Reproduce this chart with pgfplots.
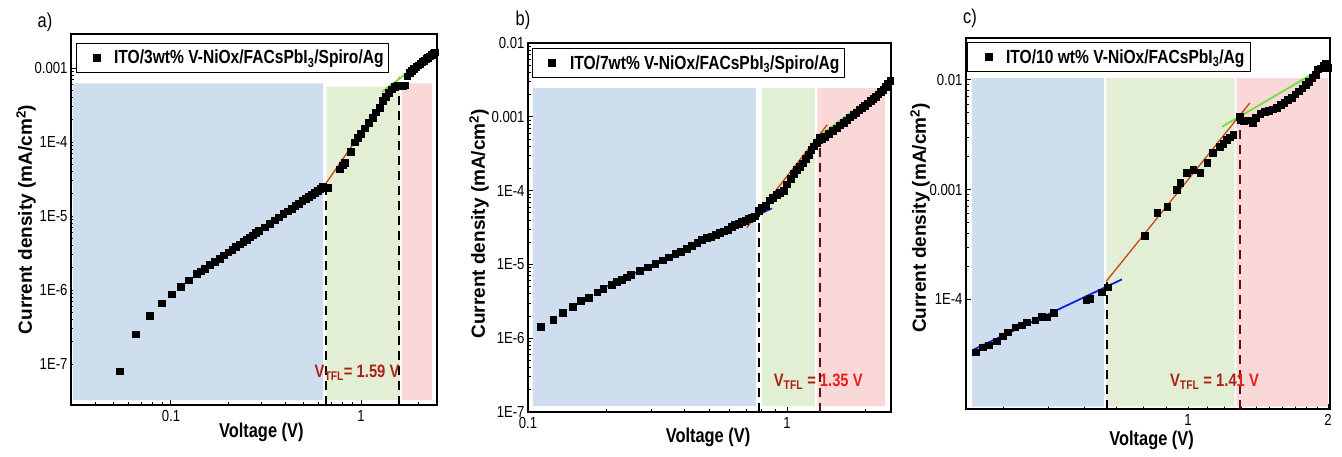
\documentclass[border=0pt]{standalone}
\usepackage{fontspec}
\setmainfont{Liberation Sans}[FakeStretch=0.82]
\newfontfamily\widefont{Liberation Sans}
\usepackage{pgfplots}
\pgfplotsset{compat=1.18}

\definecolor{regblue}{RGB}{206,222,238}
\definecolor{reggreen}{RGB}{227,239,212}
\definecolor{regred}{RGB}{250,216,215}
\definecolor{fitblue}{RGB}{20,30,220}
\definecolor{fitred}{RGB}{205,65,25}
\definecolor{fitgreen}{RGB}{110,225,60}
\definecolor{vtfl}{RGB}{170,35,25}
\definecolor{vtflbright}{RGB}{235,30,25}
\definecolor{darkdash}{RGB}{90,20,20}

\newcommand{\ticksz}{\fontsize{16}{18}\selectfont}
\newcommand{\labsz}{\fontsize{20}{22}\selectfont\bfseries}
\newcommand{\ylabsz}{\widefont\fontsize{19}{21}\selectfont\bfseries}
\newcommand{\legsz}{\fontsize{19}{21}\selectfont\bfseries}
\newcommand{\tflsz}{\fontsize{18}{20}\selectfont\bfseries}

\begin{document}
\begin{tikzpicture}
\useasboundingbox (0pt,0pt) rectangle (1342pt,457pt);

% ---------------- a) 3 wt% ----------------
\begin{axis}[
  scale only axis, xmode=log, ymode=log,
  at={(71pt,52pt)}, anchor=south west, width=366pt, height=371pt,
  axis line style={line width=1.4pt},
  tick pos=left, tick align=inside,
  major tick length=5pt, minor tick length=3pt,
  tick style={black, line width=0.9pt},
  tick label style={font=\ticksz},
  xticklabel style={yshift=-2pt},
  xmin=0.0298, xmax=2.51, ymin=2.8e-8, ymax=2.9e-3,
  xtick={0.1,1}, xticklabels={\mbox{0.1},\mbox{1}},
  minor xtick={0.04,0.05,0.06,0.07,0.08,0.09,0.2,0.3,0.4,0.5,0.6,0.7,0.8,0.9,2},
  ytick={1e-7,1e-6,1e-5,1e-4,1e-3},
  yticklabels={\mbox{1E-7},\mbox{1E-6},\mbox{1E-5},\mbox{1E-4},\mbox{0.001}},
  xlabel={Voltage (V)},
  xlabel style={font=\labsz, anchor=center, at={(axis description cs:0.52,-0.075)}},
  ylabel={Current density (mA/cm\textsuperscript{2})},
  ylabel style={font=\ylabsz, anchor=center, at={(axis description cs:-0.123,0.5)}},
  legend style={at={(0.014,0.976)}, anchor=north west, draw=black, line width=0.6pt,
                fill=white, font=\legsz, inner xsep=3pt, inner ysep=5pt},
  legend image code/.code={\path[draw=none, opacity=0] (0cm,0cm) -- (1.15cm,0cm);
                           \draw[#1] plot coordinates {(0.62cm,0cm)};},
  legend cell align=left,
]
\addplot[draw=none, fill=regblue, forget plot] coordinates {(0.0305,3.25e-8) (0.632,3.25e-8) (0.632,6.26e-4) (0.0305,6.26e-4) (0.0305,3.25e-8)};
\addplot[draw=none, fill=reggreen, forget plot] coordinates {(0.66,3.25e-8) (1.60,3.25e-8) (1.60,5.7e-4) (0.66,5.7e-4) (0.66,3.25e-8)};
\addplot[draw=none, fill=regred, forget plot] coordinates {(1.64,3.25e-8) (2.36,3.25e-8) (2.36,6.26e-4) (1.64,6.26e-4) (1.64,3.25e-8)};
\addplot[black, dash pattern=on 9pt off 6pt, line width=1.5pt, forget plot] coordinates {(0.655,2.8e-8) (0.655,2.3e-5)};
\addplot[black, dash pattern=on 9pt off 6pt, line width=1.5pt, forget plot] coordinates {(1.585,2.8e-8) (1.585,5.9e-4)};
\addplot[only marks, mark=square*, mark size=3.4pt, black] coordinates {
 (0.054,8.0e-8) (0.0655,2.54e-7) (0.0776,4.46e-7) (0.0897,6.67e-7) (0.101,8.8e-7)
 (0.113,1.1e-6) (0.124,1.36e-6) (0.137,1.65e-6) (0.143,1.8e-6)
 (0.15,1.95e-6) (0.16,2.18e-6) (0.17,2.43e-6) (0.18,2.69e-6) (0.19,2.96e-6) (0.20,3.25e-6)
 (0.21,3.54e-6) (0.22,3.85e-6) (0.23,4.17e-6) (0.24,4.49e-6) (0.25,4.83e-6) (0.26,5.18e-6)
 (0.27,5.54e-6) (0.28,5.91e-6) (0.29,6.29e-6) (0.31,7.09e-6) (0.33,7.92e-6) (0.35,8.80e-6)
 (0.37,9.71e-6) (0.39,1.07e-5) (0.41,1.17e-5) (0.43,1.27e-5) (0.45,1.38e-5) (0.47,1.49e-5)
 (0.49,1.60e-5) (0.51,1.72e-5) (0.53,1.84e-5) (0.55,1.97e-5) (0.57,2.10e-5) (0.59,2.23e-5)
 (0.61,2.37e-5) (0.63,2.50e-5)
 (0.67,2.4e-5) (0.776,4.3e-5) (0.80,4.9e-5) (0.82,5.3e-5) (0.88,7.5e-5) (0.93,1.0e-4)
 (0.96,1.15e-4) (1.0,1.3e-4) (1.05,1.55e-4) (1.1,1.85e-4) (1.15,2.15e-4) (1.2,2.55e-4)
 (1.25,2.95e-4) (1.3,3.6e-4) (1.35,4.1e-4) (1.4,4.7e-4) (1.45,5.2e-4) (1.5,5.6e-4)
 (1.55,5.9e-4) (1.58,5.9e-4)
 (1.65,5.7e-4) (1.70,5.9e-4) (1.75,7.8e-4) (1.8,8.6e-4) (1.85,9.2e-4) (1.9,9.8e-4)
 (1.95,1.04e-3) (2.0,1.10e-3) (2.05,1.15e-3) (2.1,1.21e-3) (2.15,1.27e-3) (2.2,1.33e-3)
 (2.25,1.39e-3) (2.3,1.45e-3) (2.35,1.52e-3) (2.4,1.58e-3) (2.45,1.65e-3)
};
\addlegendentry{ITO/3wt\% V-NiOx/FACsPbI\textsubscript{3}/Spiro/Ag}
\addplot[fitblue, line width=2.4pt, forget plot] coordinates {(0.137,1.65e-6) (0.63,2.5e-5)};
\addplot[fitred, line width=1.3pt, forget plot] coordinates {(0.655,2.8e-5) (1.60,7.6e-4)};
\addplot[fitgreen, line width=1.8pt, forget plot] coordinates {(1.29,4.8e-4) (2.45,1.66e-3)};
\node[font=\tflsz, text=vtfl] at (axis cs:0.953,7.6e-8) {V\textsubscript{TFL}= 1.59 V};
\end{axis}

% ---------------- b) 7 wt% ----------------
\begin{axis}[
  scale only axis, xmode=log, ymode=log,
  at={(528pt,45pt)}, anchor=south west, width=363pt, height=369pt,
  axis line style={line width=1.4pt},
  tick pos=left, tick align=inside,
  major tick length=5pt, minor tick length=3pt,
  tick style={black, line width=0.9pt},
  tick label style={font=\ticksz},
  xticklabel style={yshift=-2pt},
  xmin=0.1, xmax=2.52, ymin=1e-7, ymax=1e-2,
  xtick={0.1,1}, xticklabels={\mbox{0.1},\mbox{1}},
  minor xtick={0.2,0.3,0.4,0.5,0.6,0.7,0.8,0.9,2},
  ytick={1e-7,1e-6,1e-5,1e-4,1e-3,1e-2},
  yticklabels={\mbox{1E-7},\mbox{1E-6},\mbox{1E-5},\mbox{1E-4},\mbox{0.001},\mbox{0.01}},
  minor ytick={2e-7,3e-7,4e-7,5e-7,6e-7,7e-7,8e-7,9e-7,2e-6,3e-6,4e-6,5e-6,6e-6,7e-6,8e-6,9e-6,
               2e-5,3e-5,4e-5,5e-5,6e-5,7e-5,8e-5,9e-5,2e-4,3e-4,4e-4,5e-4,6e-4,7e-4,8e-4,9e-4,
               2e-3,3e-3,4e-3,5e-3,6e-3,7e-3,8e-3,9e-3},
  xlabel={Voltage (V)},
  xlabel style={font=\labsz, anchor=center, at={(axis description cs:0.496,-0.068)}},
  ylabel={Current density (mA/cm\textsuperscript{2})},
  ylabel style={font=\ylabsz, anchor=center, at={(axis description cs:-0.135,0.51)}},
  legend style={at={(0.011,0.986)}, anchor=north west, draw=black, line width=0.6pt,
                fill=white, font=\legsz, inner xsep=3pt, inner ysep=5pt},
  legend image code/.code={\path[draw=none, opacity=0] (0cm,0cm) -- (1.15cm,0cm);
                           \draw[#1] plot coordinates {(0.58cm,0cm)};},
  legend cell align=left,
]
\addplot[draw=none, fill=regblue, forget plot] coordinates {(0.1045,1.2e-7) (0.759,1.2e-7) (0.759,2.45e-3) (0.1045,2.45e-3) (0.1045,1.2e-7)};
\addplot[draw=none, fill=reggreen, forget plot] coordinates {(0.80,1.2e-7) (1.28,1.2e-7) (1.28,2.45e-3) (0.80,2.45e-3) (0.80,1.2e-7)};
\addplot[draw=none, fill=regred, forget plot] coordinates {(1.31,1.2e-7) (2.39,1.2e-7) (2.39,2.45e-3) (1.31,2.45e-3) (1.31,1.2e-7)};
\addplot[black, dash pattern=on 9pt off 6pt, line width=1.5pt, forget plot] coordinates {(0.78,1e-7) (0.78,5.4e-5)};
\addplot[darkdash, dash pattern=on 9pt off 6pt, line width=1.5pt, forget plot] coordinates {(1.34,1e-7) (1.34,4.4e-4)};
\addplot[only marks, mark=square*, mark size=3.4pt, black] coordinates {
 (0.112,1.43e-6) (0.125,1.78e-6) (0.136,2.2e-6) (0.149,2.67e-6) (0.16,3.2e-6)
 (0.172,3.55e-6) (0.185,4.2e-6) (0.195,4.7e-6)
 (0.21,5.37e-6) (0.22,5.8e-6) (0.23,6.25e-6) (0.24,6.7e-6) (0.25,7.18e-6) (0.27,8.15e-6)
 (0.29,9.18e-6) (0.31,1.025e-5) (0.33,1.14e-5) (0.35,1.25e-5) (0.37,1.38e-5) (0.39,1.50e-5)
 (0.41,1.63e-5) (0.43,1.78e-5) (0.45,1.95e-5) (0.47,2.15e-5) (0.49,2.32e-5) (0.51,2.40e-5)
 (0.53,2.52e-5) (0.55,2.66e-5) (0.57,2.82e-5) (0.59,2.98e-5) (0.61,3.22e-5) (0.63,3.42e-5)
 (0.65,3.6e-5) (0.67,3.78e-5) (0.69,3.95e-5) (0.71,4.12e-5) (0.73,4.3e-5) (0.75,4.5e-5)
 (0.78,5.3e-5) (0.80,5.8e-5) (0.83,6.3e-5) (0.86,7.4e-5) (0.88,8.1e-5) (0.91,8.8e-5)
 (0.94,9.3e-5) (0.97,1.0e-4) (1.0,1.22e-4) (1.03,1.45e-4) (1.06,1.7e-4) (1.09,1.9e-4)
 (1.12,2.1e-4) (1.15,2.35e-4) (1.18,2.7e-4) (1.21,3.1e-4) (1.24,3.6e-4) (1.27,4.0e-4)
 (1.30,4.5e-4) (1.33,4.9e-4)
 (1.34,5.2e-4) (1.36,5.0e-4) (1.40,5.4e-4) (1.45,5.9e-4) (1.5,6.5e-4) (1.55,7.0e-4)
 (1.6,7.7e-4) (1.65,8.3e-4) (1.7,9.0e-4) (1.75,9.9e-4) (1.8,1.07e-3) (1.85,1.15e-3)
 (1.9,1.24e-3) (1.95,1.33e-3) (2.0,1.43e-3) (2.05,1.53e-3) (2.1,1.64e-3) (2.15,1.76e-3)
 (2.2,1.89e-3) (2.25,2.03e-3) (2.3,2.18e-3) (2.35,2.35e-3) (2.4,2.55e-3) (2.45,2.8e-3)
 (2.5,3.1e-3)
};
\addlegendentry{ITO/7wt\% V-NiOx/FACsPbI\textsubscript{3}/Spiro/Ag}
\addplot[fitblue, line width=1.4pt, forget plot] coordinates {(0.198,4.9e-6) (0.875,5.74e-5)};
\addplot[fitred, line width=1.3pt, forget plot] coordinates {(0.70,3.16e-5) (1.43,7.8e-4)};
\addplot[fitgreen, line width=1.6pt, forget plot] coordinates {(1.34,5.6e-4) (2.54,2.95e-3)};
\node[font=\tflsz] at (axis cs:1.32,2.6e-7)
  {\textcolor{vtfl}{V\textsubscript{TFL} =} \textcolor{vtflbright}{1.35 V}};
\end{axis}

% ---------------- c) 10 wt% ----------------
\begin{axis}[
  scale only axis, xmode=log, ymode=log,
  at={(966pt,48pt)}, anchor=south west, width=364pt, height=371pt,
  axis line style={line width=1.4pt},
  tick pos=left, tick align=inside,
  major tick length=5pt, minor tick length=3pt,
  tick style={black, line width=0.9pt},
  tick label style={font=\ticksz},
  xticklabel style={yshift=-2pt},
  xmin=0.333, xmax=2.02, ymin=1e-5, ymax=0.0241,
  xtick={1,2}, xticklabels={\mbox{1},\mbox{2}},
  minor xtick={0.4,0.5,0.6,0.7,0.8,0.9,1.1,1.2,1.3,1.4,1.5,1.6,1.7,1.8,1.9},
  ytick={1e-4,1e-3,1e-2}, yticklabels={\mbox{1E-4},\mbox{0.001},\mbox{0.01}},
  xlabel={Voltage (V)},
  xlabel style={font=\labsz, anchor=center, at={(axis description cs:0.51,-0.084)}},
  ylabel={Current density (mA/cm\textsuperscript{2})},
  ylabel style={font=\ylabsz, anchor=center, at={(axis description cs:-0.126,0.515)}},
  legend style={at={(0.003,0.989)}, anchor=north west, draw=black, line width=0.6pt,
                fill=white, font=\legsz, inner xsep=4pt, inner ysep=5pt},
  legend image code/.code={\path[draw=none, opacity=0] (0cm,0cm) -- (1.15cm,0cm);
                           \draw[#1] plot coordinates {(0.62cm,0cm)};},
  legend cell align=left,
]
\addplot[draw=none, fill=regblue, forget plot] coordinates {(0.343,1.05e-5) (0.66,1.05e-5) (0.66,1.04e-2) (0.343,1.04e-2) (0.343,1.05e-5)};
\addplot[draw=none, fill=reggreen, forget plot] coordinates {(0.667,1.05e-5) (1.26,1.05e-5) (1.26,1.04e-2) (0.667,1.04e-2) (0.667,1.05e-5)};
\addplot[draw=none, fill=regred, forget plot] coordinates {(1.27,1.05e-5) (2.0,1.05e-5) (2.0,1.04e-2) (1.27,1.04e-2) (1.27,1.05e-5)};
\addplot[black, dash pattern=on 9pt off 6pt, line width=1.5pt, forget plot] coordinates {(0.67,1e-5) (0.67,1.43e-4)};
\addplot[darkdash, dash pattern=on 9pt off 6pt, line width=1.5pt, forget plot] coordinates {(1.294,1e-5) (1.294,4.3e-3)};
\addplot[only marks, mark=square*, mark size=3.4pt, black] coordinates {
 (0.350,3.30e-5) (0.362,3.66e-5) (0.373,3.82e-5) (0.388,4.15e-5) (0.400,4.61e-5)
 (0.410,5.01e-5) (0.425,5.56e-5) (0.438,5.80e-5) (0.449,6.18e-5) (0.469,6.45e-5)
 (0.485,7.0e-5) (0.497,6.86e-5) (0.515,7.6e-5) (0.604,9.8e-5) (0.615,1.02e-4)
 (0.653,1.16e-4) (0.673,1.29e-4)
 (0.808,3.82e-4) (0.858,6.18e-4) (0.902,7.0e-4) (0.947,1.0e-3) (0.962,1.16e-3)
 (0.995,1.43e-3) (1.026,1.52e-3) (1.062,1.43e-3) (1.099,1.76e-3) (1.132,2.17e-3)
 (1.172,2.46e-3) (1.19,2.6e-3) (1.213,2.85e-3) (1.23,3.0e-3) (1.25,3.16e-3)
 (1.29,4.6e-3) (1.30,4.3e-3) (1.32,4.2e-3) (1.34,4.3e-3) (1.36,4.3e-3) (1.38,4.1e-3)
 (1.40,4.5e-3) (1.43,4.9e-3) (1.46,5.1e-3) (1.49,5.2e-3) (1.52,5.4e-3) (1.55,5.6e-3)
 (1.58,5.9e-3) (1.61,6.2e-3) (1.64,6.6e-3) (1.67,6.9e-3) (1.70,7.4e-3) (1.73,7.9e-3)
 (1.76,8.4e-3) (1.79,9.0e-3) (1.82,9.7e-3) (1.85,1.05e-2) (1.88,1.12e-2) (1.90,1.25e-2)
 (1.93,1.28e-2) (1.96,1.35e-2) (1.98,1.40e-2) (2.00,1.3e-2)
};
\addlegendentry{ITO/10 wt\% V-NiOx/FACsPbI\textsubscript{3}/Ag}
\addplot[fitblue, line width=1.8pt, forget plot] coordinates {(0.347,3.51e-5) (0.721,1.52e-4)};
\addplot[fitred, line width=1.3pt, forget plot] coordinates {(0.667,1.46e-4) (1.358,6.17e-3)};
\addplot[fitgreen, line width=1.8pt, forget plot] coordinates {(1.183,3.74e-3) (1.972,1.32e-2)};
\node[font=\tflsz] at (axis cs:1.14,1.76e-5)
  {\textcolor{vtfl}{V\textsubscript{TFL} = 1.4}\textcolor{vtflbright}{1 V}};
\end{axis}

\node[font=\fontsize{20}{22}\selectfont] at (45pt,435pt) {a)};
\node[font=\fontsize{20}{22}\selectfont] at (523pt,437pt) {b)};
\node[font=\fontsize{20}{22}\selectfont] at (970pt,439pt) {c)};
\end{tikzpicture}
\end{document}
